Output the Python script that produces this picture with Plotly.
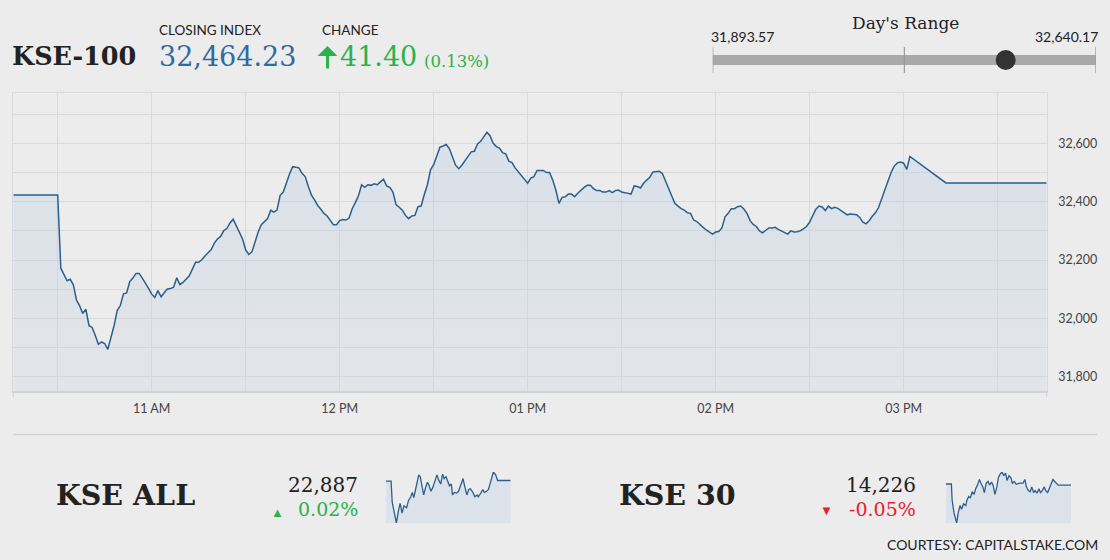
import plotly.graph_objects as go

# ---------------- data ----------------
DAY = "2017-05-02 "
index_name = "KSE-100"
closing_index = 32464.23
change_points = 41.40
change_pct = 0.13
day_low = 31893.57
day_high = 32640.17
session_start = "10:15:50"
session_end = "15:45:40"

times = [
    "10:15:50",
    "10:30", "10:31", "10:32", "10:33", "10:34", "10:35", "10:36", "10:37", "10:38", "10:39",
    "10:40", "10:41", "10:42", "10:43", "10:44", "10:45", "10:46", "10:47", "10:48", "10:49",
    "10:50", "10:51", "10:52", "10:53", "10:54", "10:55", "10:56", "10:57", "10:58", "10:59",
    "11:00", "11:01", "11:02", "11:03", "11:04", "11:05", "11:06", "11:07", "11:08", "11:09",
    "11:10", "11:11", "11:12", "11:13", "11:14", "11:15", "11:16", "11:17", "11:18", "11:19",
    "11:20", "11:21", "11:22", "11:23", "11:24", "11:25", "11:26", "11:27", "11:28", "11:29",
    "11:30", "11:31", "11:32", "11:33", "11:34", "11:35", "11:36", "11:37", "11:38", "11:39",
    "11:40", "11:41", "11:42", "11:43", "11:44", "11:45", "11:46", "11:47", "11:48", "11:49",
    "11:50", "11:51", "11:52", "11:53", "11:54", "11:55", "11:56", "11:57", "11:58", "11:59",
    "12:00", "12:01", "12:02", "12:03", "12:04", "12:05", "12:06", "12:07", "12:08", "12:09",
    "12:10", "12:11", "12:12", "12:13", "12:14", "12:15", "12:16", "12:17", "12:18", "12:19",
    "12:20", "12:21", "12:22", "12:23", "12:24", "12:25", "12:26", "12:27", "12:28", "12:29",
    "12:30", "12:31", "12:32", "12:33", "12:34", "12:35", "12:36", "12:37", "12:38", "12:39",
    "12:40", "12:41", "12:42", "12:43", "12:44", "12:45", "12:46", "12:47", "12:48", "12:49",
    "12:50", "12:51", "12:52", "12:53", "12:54", "12:55", "12:56", "12:57", "12:58", "12:59",
    "13:00", "13:01", "13:02", "13:03", "13:04", "13:05", "13:06", "13:07", "13:08", "13:09",
    "13:10", "13:11", "13:12", "13:13", "13:14", "13:15", "13:16", "13:17", "13:18", "13:19",
    "13:20", "13:21", "13:22", "13:23", "13:24", "13:25", "13:26", "13:27", "13:28", "13:29",
    "13:30", "13:31", "13:32", "13:33", "13:34", "13:35", "13:36", "13:37", "13:38", "13:39",
    "13:40", "13:41", "13:42", "13:43", "13:44", "13:45", "13:46", "13:47", "13:48", "13:49",
    "13:50", "13:51", "13:52", "13:53", "13:54", "13:55", "13:56", "13:57", "13:58", "13:59",
    "14:00", "14:01", "14:02", "14:03", "14:04", "14:05", "14:06", "14:07", "14:08", "14:09",
    "14:10", "14:11", "14:12", "14:13", "14:14", "14:15", "14:16", "14:17", "14:18", "14:19",
    "14:20", "14:21", "14:22", "14:23", "14:24", "14:25", "14:26", "14:27", "14:28", "14:29",
    "14:30", "14:31", "14:32", "14:33", "14:34", "14:35", "14:36", "14:37", "14:38", "14:39",
    "14:40", "14:41", "14:42", "14:43", "14:44", "14:45", "14:46", "14:47", "14:48", "14:49",
    "14:50", "14:51", "14:52", "14:53", "14:54", "14:55", "14:56", "14:57", "14:58", "14:59",
    "15:00", "15:01", "15:02",
    "15:13:30", "15:45:40",
]
values = [
    32423,
    32423, 32172, 32153, 32129, 32134, 32115, 32063, 32043, 32017, 32031,
    31975, 31969, 31941, 31911, 31919, 31914, 31894, 31934, 31975, 32027,
    32044, 32084, 32087, 32126, 32138, 32154, 32154, 32138, 32122, 32103,
    32083, 32072, 32095, 32074, 32088, 32101, 32102, 32107, 32139, 32116,
    32123, 32134, 32146, 32169, 32192, 32192, 32201, 32214, 32224, 32236,
    32258, 32272, 32281, 32301, 32308, 32327, 32340, 32318, 32295, 32272,
    32235, 32219, 32228, 32262, 32296, 32321, 32332, 32342, 32371, 32364,
    32371, 32422, 32433, 32468, 32495, 32520, 32518, 32516, 32497, 32486,
    32452, 32422, 32406, 32387, 32374, 32360, 32351, 32335, 32321, 32321,
    32335, 32339, 32337, 32344, 32376, 32397, 32420, 32458, 32449, 32458,
    32456, 32461, 32458, 32468, 32477, 32454, 32449, 32433, 32390, 32381,
    32371, 32353, 32342, 32351, 32353, 32383, 32385, 32424, 32458, 32509,
    32527, 32557, 32587, 32591, 32596, 32582, 32552, 32525, 32513, 32525,
    32541, 32555, 32571, 32573, 32598, 32607, 32623, 32638, 32626, 32600,
    32589, 32584, 32568, 32564, 32539, 32534, 32516, 32502, 32488, 32474,
    32463, 32481, 32486, 32507, 32507, 32507, 32500, 32500, 32474, 32440,
    32394, 32415, 32417, 32426, 32426, 32417, 32429, 32440, 32449, 32456,
    32456, 32445, 32438, 32438, 32433, 32433, 32438, 32431, 32438, 32440,
    32433, 32431, 32429, 32426, 32454, 32452, 32447, 32463, 32474, 32484,
    32502, 32502, 32504, 32497, 32470, 32445, 32417, 32394, 32385, 32376,
    32371, 32362, 32360, 32337, 32332, 32321, 32312, 32303, 32296, 32289,
    32296, 32298, 32310, 32348, 32360, 32376, 32376, 32383, 32385, 32375,
    32360, 32335, 32322, 32315, 32300, 32293, 32302, 32310, 32310, 32312,
    32305, 32300, 32296, 32289, 32300, 32296, 32297, 32300, 32307, 32315,
    32330, 32350, 32374, 32385, 32382, 32370, 32385, 32376, 32381, 32377,
    32370, 32362, 32355, 32358, 32357, 32355, 32346, 32330, 32324, 32335,
    32350, 32362, 32380, 32410, 32440, 32470, 32500, 32522, 32533, 32536,
    32532, 32511, 32555,
    32464.23, 32464.23,
]
y_range = [31751, 32775]
y_label_step = 200
y_grid_step = 100

# KSE ALL sparkline
all_name = "KSE ALL"
all_close = "22,887"
all_change = "0.02%"
times_all = ["10:15:50", "10:30", "10:33", "10:38", "10:44", "10:50", "10:54", "10:59", "11:04", "11:11",
             "11:16", "11:22", "11:26", "11:30", "11:34", "11:39", "11:43", "11:47", "11:51", "11:56",
             "12:01", "12:06", "12:10", "12:15", "12:20", "12:25", "12:31", "12:36", "12:41", "12:46",
             "12:50", "12:55", "13:00", "13:04", "13:09", "13:12", "13:17", "13:23", "13:28", "13:33",
             "13:40", "13:44", "13:50", "13:55", "13:59", "14:06", "14:11", "14:17", "14:20", "14:28",
             "14:32", "14:36", "14:42", "14:47", "14:54", "15:00", "15:06", "15:11", "15:45:40"]
values_all = [22882, 22882, 22708, 22633, 22537, 22648, 22699, 22618, 22678, 22663,
              22723, 22753, 22789, 22747, 22798, 22888, 22933, 22918, 22843, 22768,
              22828, 22873, 22849, 22798, 22828, 22879, 22933, 22888, 22858, 22939,
              22903, 22918, 22873, 22843, 22858, 22768, 22789, 22783, 22798, 22837,
              22903, 22843, 22768, 22813, 22819, 22789, 22753, 22768, 22753, 22789,
              22813, 22789, 22798, 22813, 22903, 22957, 22933, 22887, 22887]

# KSE 30 sparkline
k30_name = "KSE 30"
k30_close = "14,226"
k30_change = "-0.05%"
times_30 = ["10:15:50", "10:30", "10:32", "10:37", "10:44", "10:48", "10:53", "10:57", "11:02", "11:08",
            "11:11", "11:16", "11:20", "11:25", "11:30", "11:34", "11:39", "11:44", "11:48", "11:53",
            "11:57", "12:02", "12:07", "12:11", "12:16", "12:20", "12:25", "12:30", "12:34", "12:39",
            "12:44", "12:48", "12:53", "12:57", "13:02", "13:07", "13:11", "13:16", "13:21", "13:30",
            "13:39", "13:44", "13:48", "13:53", "13:58", "14:02", "14:07", "14:11", "14:16", "14:21",
            "14:25", "14:30", "14:35", "14:39", "14:44", "14:48", "14:53", "14:58", "15:04", "15:12",
            "15:45:40"]
values_30 = [14233, 14233, 14134, 14054, 13992, 14054, 14100, 14077, 14111, 14100,
             14134, 14157, 14146, 14185, 14169, 14203, 14226, 14261, 14238, 14215,
             14180, 14238, 14249, 14226, 14245, 14226, 14169, 14215, 14272, 14295,
             14307, 14284, 14300, 14254, 14284, 14272, 14238, 14249, 14231, 14238,
             14238, 14261, 14215, 14192, 14185, 14215, 14180, 14192, 14176, 14203,
             14180, 14192, 14215, 14192, 14180, 14203, 14226, 14261, 14245, 14226,
             14226]

# ---------------- styling ----------------
W, H = 1110, 560
BG = "#ececec"
GRID = "#d9d9d9"
LINE = "#2b5f8e"
DARK = "#222222"
BLUE = "#2f6aa1"
GREEN = "#2bb24c"
RED = "#e8202e"
SERIF = "DejaVu Serif"
SANS = "Lato"


def px(x):
    return x / W


def py(y):
    return 1 - y / H


def ts(lst):
    return [DAY + t for t in lst]


x_range = [DAY + session_start, DAY + session_end]

fig = go.Figure()

# main intraday line
fig.add_trace(go.Scatter(
    x=ts(times), y=values, mode="lines",
    line=dict(color=LINE, width=1.5),
    fill="tozeroy",
    fillgradient=dict(type="vertical",
                      colorscale=[[0, "rgba(206,213,223,0.32)"], [1, "rgba(184,205,228,0.38)"]],
                      start=y_range[0], stop=max(values)),
    xaxis="x", yaxis="y", hoverinfo="skip", showlegend=False,
))

# sparklines
for tt, vv, xa, ya in [(times_all, values_all, "x2", "y2"), (times_30, values_30, "x3", "y3")]:
    fig.add_trace(go.Scatter(
        x=ts(tt), y=vv, mode="lines",
        line=dict(color=LINE, width=1.3),
        fill="tozeroy", fillcolor="#dce2ea",
        xaxis=xa, yaxis=ya, hoverinfo="skip", showlegend=False,
    ))

# day's range marker
fig.add_trace(go.Scatter(
    x=[closing_index], y=[0.5], mode="markers",
    marker=dict(size=20, color="#333333"),
    xaxis="x4", yaxis="y4", hoverinfo="skip", showlegend=False, cliponaxis=False,
))

hidden = dict(visible=False, showgrid=False, zeroline=False, fixedrange=True)

fig.update_layout(
    width=W, height=H,
    margin=dict(l=0, r=0, t=0, b=0),
    paper_bgcolor=BG, plot_bgcolor="rgba(0,0,0,0)",
    template="none",
    xaxis=dict(
        domain=[px(13.3), px(1046.7)], anchor="y", type="date", range=x_range,
        tick0=DAY + "10:00", dtick=3600000, tickformat="%I %p",
        showgrid=True, gridcolor=GRID, gridwidth=1,
        minor=dict(dtick=1800000, tick0=DAY + "10:00", showgrid=True, gridcolor=GRID, gridwidth=1),
        showline=True, linecolor="#d2d2d2", linewidth=2,
        ticks="", tickfont=dict(family=SANS, size=12.5, color="#444"),
        ticklabelstandoff=5, zeroline=False, automargin=False,
    ),
    yaxis=dict(
        domain=[py(391), py(92.3)], anchor="x", range=y_range, side="right",
        tick0=0, dtick=y_label_step, tickformat=",d",
        showgrid=True, gridcolor=GRID, gridwidth=1,
        minor=dict(dtick=y_grid_step, tick0=0, showgrid=True, gridcolor=GRID, gridwidth=1),
        showline=True, mirror=True, linecolor=GRID, linewidth=1,
        ticks="", tickfont=dict(family=SANS, size=12.5, color="#444"),
        ticklabelstandoff=8, zeroline=False, automargin=False,
    ),
    xaxis2=dict(domain=[px(385.7), px(510.7)], anchor="y2", range=x_range, type="date", **hidden),
    yaxis2=dict(domain=[py(523), py(472)], anchor="x2", range=[min(values_all), max(values_all)], **hidden),
    xaxis3=dict(domain=[px(946), px(1071)], anchor="y3", range=x_range, type="date", **hidden),
    yaxis3=dict(domain=[py(523), py(472)], anchor="x3", range=[min(values_30), max(values_30)], **hidden),
    xaxis4=dict(domain=[px(712.7), px(1096)], anchor="y4", range=[day_low, day_high], **hidden),
    yaxis4=dict(domain=[py(73.3), py(46.7)], anchor="x4", range=[0, 1], **hidden),
)

shapes = []
# day's range bar + ticks
shapes.append(dict(type="line", xref="x4", yref="y4", x0=day_low, x1=day_high, y0=0.5, y1=0.5,
                   line=dict(color="#a9a9a9", width=10), layer="below"))
for v in [day_low, (day_low + day_high) / 2, day_high]:
    shapes.append(dict(type="line", xref="x4", yref="y4", x0=v, x1=v, y0=0, y1=1,
                       line=dict(color="#999999", width=1.2), layer="below"))
# top border of the main plot
shapes.append(dict(type="line", xref="paper", yref="paper", x0=px(13.3), x1=px(1046.7),
                   y0=py(92.3), y1=py(92.3), line=dict(color=GRID, width=1)))
# small end ticks under the x axis
for xx in [13.3, 1046.7]:
    shapes.append(dict(type="line", xref="paper", yref="paper", x0=px(xx), x1=px(xx),
                       y0=py(391), y1=py(397), line=dict(color="#d2d2d2", width=1)))
# separator
shapes.append(dict(type="line", xref="paper", yref="paper", x0=px(13), x1=px(1097),
                   y0=py(434.5), y1=py(434.5), line=dict(color="#d2d2d2", width=1.5)))
fig.update_layout(shapes=shapes)

ann = []


def text(t, x, y, size, color=DARK, family=SANS, xanchor="left", bold=False):
    ann.append(dict(text=t, x=px(x), y=py(y), xref="paper", yref="paper",
                    xanchor=xanchor, yanchor="middle", showarrow=False,
                    font=dict(family=family, size=size, color=color,
                              weight="bold" if bold else "normal"),
                    borderpad=0, borderwidth=0))


text(index_name, 12, 56, 25.5, family=SERIF, bold=True)
text("CLOSING INDEX", 159, 30, 13.5)
text(f"{closing_index:,.2f}", 159, 57, 27, color=BLUE, family=SERIF)
text("CHANGE", 322, 30, 13.5)
# green up arrow drawn as an annotation arrow
ann.append(dict(text="", x=px(327.5), y=py(46), xref="paper", yref="paper",
                showarrow=True, ax=0, ay=24, axref="pixel", ayref="pixel",
                arrowhead=1, arrowsize=1.1, arrowwidth=3, arrowcolor=GREEN, standoff=0))
text(f"{change_points:.2f}", 340, 57, 27, color=GREEN, family=SERIF)
text(f"({change_pct:.2f}%)", 424, 61, 16.5, color=GREEN, family=SERIF)

text("Day's Range", 905, 23, 17, family=SERIF, xanchor="center")
text(f"{day_low:,.2f}", 711, 37, 14)
text(f"{day_high:,.2f}", 1098, 37, 14, xanchor="right")

text(all_name, 56, 495, 28.5, family=SERIF, bold=True)
text(all_close, 358, 485, 20, family=SERIF, xanchor="right")
text("\u25B2", 277.5, 511.5, 13, color=GREEN, xanchor="center")
text(all_change, 358, 509, 19, color=GREEN, family=SERIF, xanchor="right")

text(k30_name, 619, 495, 28.5, family=SERIF, bold=True)
text(k30_close, 916, 485, 20, family=SERIF, xanchor="right")
text("\u25BC", 826, 509.5, 13, color=RED, xanchor="center")
text(k30_change, 916, 509, 19, color=RED, family=SERIF, xanchor="right")

text("COURTESY: CAPITALSTAKE.COM", 1098, 544, 14, xanchor="right")

fig.update_layout(annotations=ann)

fig.write_html("out.html")
